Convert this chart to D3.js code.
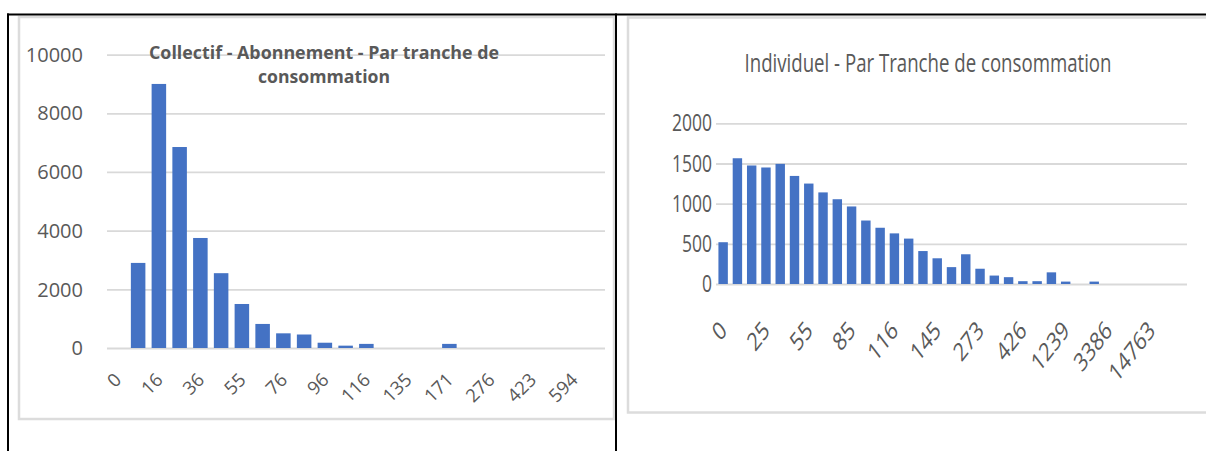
<!DOCTYPE html>
<html>
<head>
<meta charset="utf-8">
<script src="https://cdn.jsdelivr.net/npm/d3@7"></script>
<style>
  html, body { margin: 0; padding: 0; background: #ffffff; }
  svg { display: block; }
  text { font-family: "Open Sans", "Noto Sans", sans-serif; fill: #595959; }
</style>
</head>
<body>
<svg id="chart" width="1206" height="451"></svg>
<script>
// ---------- DATA ----------
// Left chart: "Collectif - Abonnement - Par tranche de consommation"
const collectifValues = [0, 2900, 9000, 6850, 3750, 2550, 1500, 820, 500, 460, 180, 80, 140, 0, 0, 0, 140, 0, 0, 0, 0, 0, 0, 0];
const collectifTickLabels = ["0", "16", "36", "55", "76", "96", "116", "135", "171", "276", "423", "594"];
const collectifTickStep = 2;
const collectifYTicks = [0, 2000, 4000, 6000, 8000, 10000];

// Right chart: "Individuel - Par Tranche de consommation"
const individuelValues = [520, 1565, 1475, 1450, 1495, 1345, 1250, 1140, 1055, 965, 790, 700, 630, 565, 410, 320, 210, 370, 190, 105, 85, 35, 35, 145, 30, 0, 30, 0, 0, 0, 0, 0, 0];
const individuelTickLabels = ["0", "25", "55", "85", "116", "145", "273", "426", "1239", "3386", "14763"];
const individuelTickStep = 3;
const individuelYTicks = [0, 500, 1000, 1500, 2000];

const BAR = "#4472c4";
const GRID = "#d9d9d9";

const svg = d3.select("#chart");

// ---------- page frame (table borders & chart frames) ----------
svg.append("rect").attr("x", 19).attr("y", 17).attr("width", 595).attr("height", 402)
  .attr("fill", "#fff").attr("stroke", "#dcdcdc").attr("stroke-width", 2.5);
svg.append("rect").attr("x", 628).attr("y", 17.5).attr("width", 620).attr("height", 395)
  .attr("fill", "#fff").attr("stroke", "#dcdcdc").attr("stroke-width", 2.5);

svg.append("rect").attr("x", 7).attr("y", 13.5).attr("width", 1199).attr("height", 2).attr("fill", "#000");
svg.append("rect").attr("x", 7).attr("y", 13.5).attr("width", 2).attr("height", 440).attr("fill", "#000");
svg.append("rect").attr("x", 615).attr("y", 13.5).attr("width", 2).attr("height", 440).attr("fill", "#000");

// ---------- generic bar chart ----------
function drawChart(cfg) {
  const g = svg.append("g");
  const x = d3.scaleBand()
    .domain(d3.range(cfg.values.length))
    .range([cfg.x0, cfg.x1])
    .paddingInner(cfg.padIn)
    .paddingOuter(cfg.padIn / 2);
  const y = d3.scaleLinear().domain([0, cfg.yMax]).range([cfg.y0, cfg.y1]);

  // gridlines via axis
  const yAxis = d3.axisLeft(y).tickValues(cfg.yTicks).tickSize(-(cfg.x1 - cfg.x0)).tickFormat("");
  const ga = g.append("g").attr("transform", `translate(${cfg.x0},0)`).call(yAxis);
  ga.select(".domain").remove();
  ga.selectAll(".tick line").attr("stroke", GRID).attr("stroke-width", 1.8);

  // y labels
  g.selectAll(".ylab").data(cfg.yTicks).enter().append("text")
    .attr("class", "ylab")
    .attr("text-anchor", "end")
    .attr("font-size", cfg.yFont)
    .attr("transform", d => `translate(${cfg.yLabX},${y(d)}) scale(1,${cfg.vStretch})`)
    .attr("dy", "0.36em")
    .text(d => d);

  // bars
  g.selectAll(".bar").data(cfg.values).enter().append("rect")
    .attr("class", "bar")
    .attr("x", (d, i) => x(i))
    .attr("width", x.bandwidth())
    .attr("y", d => y(d))
    .attr("height", d => y(0) - y(d))
    .attr("fill", BAR);

  // x labels
  const labs = cfg.tickLabels.map((t, k) => ({ t, i: k * cfg.tickStep }));
  g.selectAll(".xlab").data(labs).enter().append("text")
    .attr("class", "xlab")
    .attr("text-anchor", "end")
    .attr("font-size", cfg.xFont)
    .attr("transform", d => `translate(${x(d.i) + x.bandwidth() / 2 + cfg.xLabDx},${cfg.xLabY}) scale(1,${cfg.vStretch}) rotate(-45)`)
    .text(d => d.t);

  // title
  cfg.title.forEach((line, k) => {
    g.append("text")
      .attr("text-anchor", "middle")
      .attr("font-size", cfg.titleFont)
      .attr("font-weight", cfg.titleWeight)
      .attr("transform", `translate(${cfg.titleX},${cfg.titleY + k * cfg.titleLH}) scale(1,${cfg.vStretch})`)
      .attr("textLength", cfg.titleLen[k])
      .attr("lengthAdjust", "spacingAndGlyphs")
      .text(line);
  });
}

drawChart({
  values: collectifValues, tickLabels: collectifTickLabels, tickStep: collectifTickStep,
  yTicks: collectifYTicks, yMax: 10000,
  x0: 107, x1: 605, y0: 348, y1: 54.6, padIn: 0.3,
  yFont: 20, yLabX: 83, xFont: 18.5, xLabDx: 5, xLabY: 381, vStretch: 1,
  title: ["Collectif - Abonnement - Par tranche de", "consommation"],
  titleX: 324, titleY: 58.5, titleLH: 24, titleFont: 17.7, titleWeight: 700, titleLen: [350, 132]
});

drawChart({
  values: individuelValues, tickLabels: individuelTickLabels, tickStep: individuelTickStep,
  yTicks: individuelYTicks, yMax: 2000,
  x0: 716, x1: 1187, y0: 284, y1: 123.3, padIn: 0.34,
  yFont: 17.5, yLabX: 712, xFont: 19.5, xLabDx: 5, xLabY: 332, vStretch: 1.3,
  title: ["Individuel - Par Tranche de consommation"],
  titleX: 928, titleY: 72, titleLH: 0, titleFont: 19, titleWeight: 400, titleLen: [367]
});
</script>
</body>
</html>
